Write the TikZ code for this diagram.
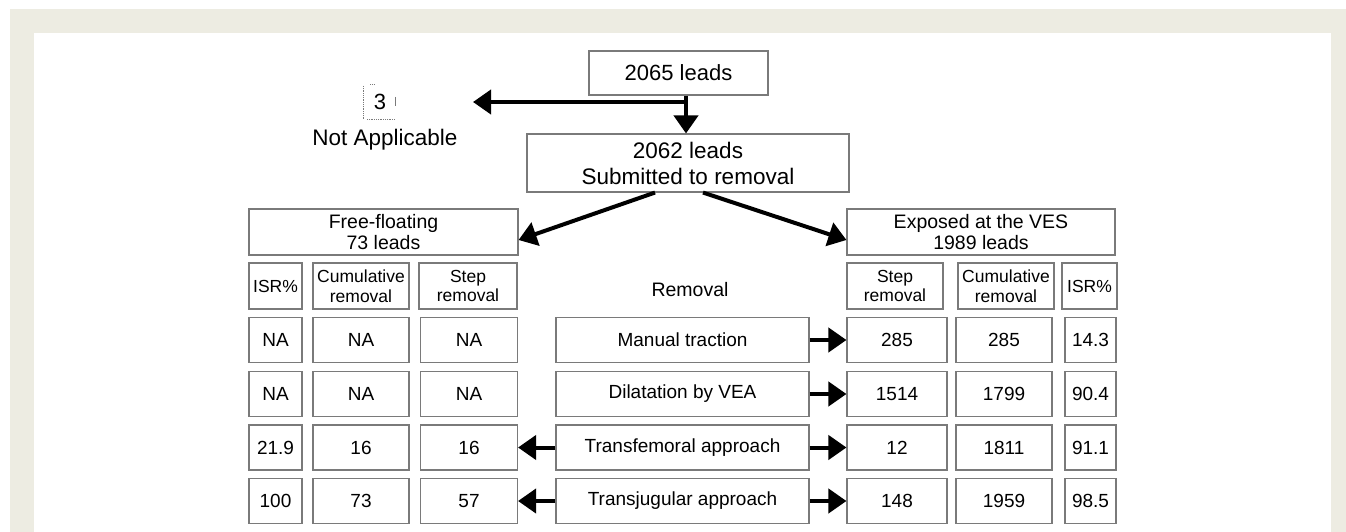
\documentclass[tikz,border=0pt]{standalone}
\usepackage{fontspec}
\setmainfont{Liberation Sans}
\usetikzlibrary{arrows.meta,positioning}

\definecolor{framebg}{HTML}{EDECE2}
\definecolor{boxgray}{HTML}{7A7A7A}

\tikzset{
  cell/.style={draw=boxgray, line width=1.1pt, fill=white, align=center,
    inner sep=1pt, minimum height=45pt, font=\fontsize{19}{21}\selectfont},
  head/.style={cell, minimum height=46pt, font=\fontsize{17.5}{19.5}\selectfont},
  arr/.style={line width=4pt, -{Triangle[length=18pt,width=24pt]}}
}

\begin{document}
\begin{tikzpicture}[x=1pt, y=-1pt]
    \useasboundingbox (0,0) rectangle (1346,532);
    \fill[framebg] (10,9) rectangle (1346,532);
    \fill[white] (34,33) rectangle (1331,532);

    % top of the flow
    \node[cell, minimum width=179pt, minimum height=44pt,
          font=\fontsize{22}{24}\selectfont] (top) at (678.5,73) {2065 leads};
    \node[cell, minimum width=322pt, minimum height=58pt,
          font=\fontsize{22.5}{26}\selectfont] (sub) at (688,163)
          {2062 leads\\Submitted to removal};
    \node[font=\fontsize{22}{24}\selectfont] (three) at (380,102) {3};
    \node[font=\fontsize{22.5}{24}\selectfont] (na) at (385,140) {Not Applicable};
    \coordinate (naend) at (473,102);
    \coordinate (split) at (686,102);
    \draw[boxgray, densely dotted, line width=0.8pt]
        (363,86) -- (363,119) (367,119) -- (395,119) (370,84) -- (374,84);
    \draw[boxgray, line width=0.8pt] (395,97) -- (395,106);

    % the two groups
    \node[head, minimum width=269pt, font=\fontsize{19.5}{21.5}\selectfont]
          (free) at (383.5,232) {Free-floating\\73 leads};
    \node[head, minimum width=268pt, font=\fontsize{19.5}{21.5}\selectfont]
          (exp) at (981,232) {Exposed at the VES\\1989 leads};

    % headers
    \node[head, minimum width=53pt] (lisr) at (275.5,286) {ISR\%};
    \node[head, minimum width=96pt] (lcum) at (361,286) {Cumulative\\removal};
    \node[head, minimum width=98pt] (lstep) at (468,286) {Step\\removal};
    \node[font=\fontsize{19.5}{21}\selectfont] (rem) at (690,290) {Removal};
    \node[head, minimum width=96pt] (rstep) at (895,286) {Step\\removal};
    \node[head, minimum width=96pt] (rcum) at (1006,286) {Cumulative\\removal};
    \node[head, minimum width=55pt] (risr) at (1089.5,286) {ISR\%};

    % row 1
    \node[cell, minimum width=53pt] (aisr) at (275.5,340) {NA};
    \node[cell, minimum width=96pt] (acum) at (361,340) {NA};
    \node[cell, minimum width=97pt] (astep) at (469,340) {NA};
    \node[cell, minimum width=253pt] (am) at (682.5,340) {Manual traction};
    \node[cell, minimum width=100pt] (ars) at (897,340) {285};
    \node[cell, minimum width=96pt] (arc) at (1004,340) {285};
    \node[cell, minimum width=51pt] (ari) at (1090.5,340) {14.3};

    % row 2
    \node[cell, minimum width=53pt] (bisr) at (275.5,394) {NA};
    \node[cell, minimum width=96pt] (bcum) at (361,394) {NA};
    \node[cell, minimum width=97pt] (bstep) at (469,394) {NA};
    \node[cell, minimum width=253pt] (bm) at (682.5,394) {Dilatation by VEA};
    \node[cell, minimum width=100pt] (brs) at (897,394) {1514};
    \node[cell, minimum width=96pt] (brc) at (1004,394) {1799};
    \node[cell, minimum width=51pt] (bri) at (1090.5,394) {90.4};

    % row 3
    \node[cell, minimum width=53pt] (cisr) at (275.5,447.5) {21.9};
    \node[cell, minimum width=96pt] (ccum) at (361,447.5) {16};
    \node[cell, minimum width=97pt] (cstep) at (469,447.5) {16};
    \node[cell, minimum width=253pt] (cm) at (682.5,447.5) {Transfemoral approach};
    \node[cell, minimum width=100pt] (crs) at (897,447.5) {12};
    \node[cell, minimum width=96pt] (crc) at (1004,447.5) {1811};
    \node[cell, minimum width=51pt] (cri) at (1090.5,447.5) {91.1};

    % row 4
    \node[cell, minimum width=53pt] (disr) at (275.5,501) {100};
    \node[cell, minimum width=96pt] (dcum) at (361,501) {73};
    \node[cell, minimum width=97pt] (dstep) at (469,501) {57};
    \node[cell, minimum width=253pt] (dm) at (682.5,501) {Transjugular approach};
    \node[cell, minimum width=100pt] (drs) at (897,501) {148};
    \node[cell, minimum width=96pt] (drc) at (1004,501) {1959};
    \node[cell, minimum width=51pt] (dri) at (1090.5,501) {98.5};

    % arrows
    \draw[arr] (top.south -| split) -- (sub.north -| split);
    \draw[arr] (split) -- (naend);
    \draw[arr] ([xshift=-33pt]sub.south) -- ([yshift=-8pt]free.east);
    \draw[arr] ([xshift=15pt]sub.south) -- ([yshift=-8pt]exp.west);
    \draw[arr] (am) -- (ars);
    \draw[arr] (bm) -- (brs);
    \draw[arr] (cm) -- (crs);
    \draw[arr] (dm) -- (drs);
    \draw[arr] (cm) -- (cstep);
    \draw[arr] (dm) -- (dstep);
\end{tikzpicture}
\end{document}
